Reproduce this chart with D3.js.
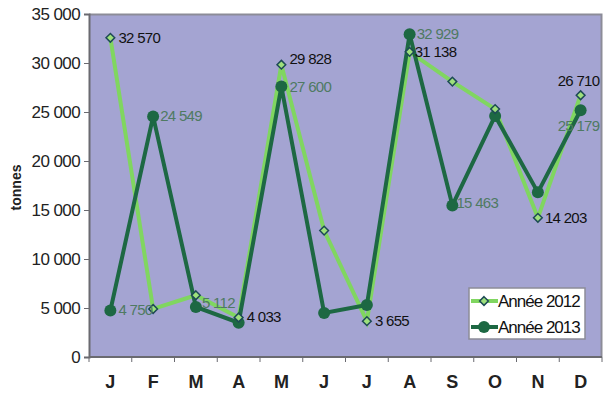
<!DOCTYPE html>
<html>
<head>
<meta charset="utf-8">
<script src="https://cdn.jsdelivr.net/npm/d3@7"></script>
<style>
  html, body { margin: 0; padding: 0; background: #ffffff; }
  svg { display: block; font-family: "Liberation Sans", Arial, sans-serif; }
</style>
</head>
<body>
<svg id="chart" width="610" height="395"></svg>
<script>
// Monthly tonnage, 2012 vs 2013
const months = ["J", "F", "M", "A", "M", "J", "J", "A", "S", "O", "N", "D"];
const values2012 = [32570, 4900, 6300, 4033, 29828, 12900, 3655, 31138, 28100, 25300, 14203, 26710];
const values2013 = [4750, 24549, 5112, 3500, 27600, 4500, 5300, 32929, 15463, 24600, 16800, 25179];
const yTicks = [0, 5000, 10000, 15000, 20000, 25000, 30000, 35000];

// Which points carry a value label, and where it sits relative to the point
const labels2012 = [
  { i: 0, dx: 8, dy: 5 }, { i: 3, dx: 8, dy: 5 }, { i: 4, dx: 8, dy: -1 },
  { i: 6, dx: 8, dy: 5 }, { i: 7, dx: 5, dy: 5 }, { i: 10, dx: 7, dy: 5 },
  { i: 11, dx: -23, dy: -9 }
];
const labels2013 = [
  { i: 0, dx: 8, dy: 5 }, { i: 1, dx: 7, dy: 5 }, { i: 2, dx: 6, dy: 1 },
  { i: 4, dx: 8, dy: 5 }, { i: 7, dx: 7, dy: 5 }, { i: 8, dx: 4, dy: 3 },
  { i: 11, dx: -23, dy: 21 }
];

const fmt = v => d3.format(",")(v).replace(/,/g, " ");

const svg = d3.select("#chart");
const margin = { left: 89, top: 14, right: 8, bottom: 38 };
const W = 610, H = 395;
const x0 = margin.left, x1 = W - margin.right;
const y0 = H - margin.bottom, y1 = margin.top;

const x = d3.scalePoint().domain(d3.range(12)).range([x0, x1]).padding(0.5);
const y = d3.scaleLinear().domain([0, 35000]).range([y0, y1]);
const step = x.step();

// Plot background
svg.append("rect")
  .attr("x", x0).attr("y", y1)
  .attr("width", x1 - x0).attr("height", y0 - y1)
  .attr("fill", "#a4a4d2");

// Frame top / right
svg.append("path")
  .attr("d", `M${x0},${y1 + 0.5}H${x1 - 0.5}V${y0}`)
  .attr("fill", "none").attr("stroke", "#8c8c98").attr("stroke-width", 2);

// Y axis
const yAxis = svg.append("g")
  .attr("transform", `translate(${x0},0)`)
  .call(d3.axisLeft(y).tickValues(yTicks).tickSize(5).tickPadding(4).tickFormat(fmt));
yAxis.select(".domain").attr("stroke", "#6a6a70").attr("stroke-width", 2);
yAxis.selectAll(".tick line").attr("stroke", "#6a6a70");
yAxis.selectAll("text").attr("font-size", 17).attr("fill", "#222").attr("letter-spacing", -0.6);

// X axis: ticks between categories
const xAxis = svg.append("g").attr("transform", `translate(0,${y0})`);
xAxis.append("line")
  .attr("x1", x0).attr("x2", x1).attr("stroke", "#6a6a70").attr("stroke-width", 2);
xAxis.selectAll("line.sep")
  .data(d3.range(13))
  .join("line")
  .attr("class", "sep")
  .attr("x1", i => x0 + i * step).attr("x2", i => x0 + i * step)
  .attr("y1", 0).attr("y2", 5)
  .attr("stroke", "#6a6a70");
xAxis.selectAll("text")
  .data(months)
  .join("text")
  .attr("x", (d, i) => x(i)).attr("y", 31)
  .attr("text-anchor", "middle")
  .attr("font-size", 18).attr("font-weight", "bold").attr("fill", "#222")
  .text(d => d);

// Y title
svg.append("text")
  .attr("transform", `translate(21,${(y0 + y1) / 2 + 2}) rotate(-90)`)
  .attr("text-anchor", "middle")
  .attr("font-size", 14).attr("font-weight", "bold").attr("fill", "#222")
  .text("tonnes");

const line = d3.line().x((d, i) => x(i)).y(d => y(d));

const c2012 = "#80d660", c2013 = "#1d6843";

// 2012 series
svg.append("path").datum(values2012)
  .attr("d", line).attr("fill", "none")
  .attr("stroke", c2012).attr("stroke-width", 4).attr("stroke-linejoin", "miter");
// 2013 series
svg.append("path").datum(values2013)
  .attr("d", line).attr("fill", "none")
  .attr("stroke", c2013).attr("stroke-width", 4).attr("stroke-linejoin", "miter");

const diamond = d3.symbol().type(d3.symbolDiamond2).size(48);

svg.append("g").selectAll("circle")
  .data(values2013)
  .join("circle")
  .attr("cx", (d, i) => x(i)).attr("cy", d => y(d))
  .attr("r", 6).attr("fill", c2013);

svg.append("g").selectAll("path")
  .data(values2012)
  .join("path")
  .attr("d", diamond)
  .attr("transform", (d, i) => `translate(${x(i)},${y(d)})`)
  .attr("fill", "#9ee07c").attr("stroke", "#1d4a55").attr("stroke-width", 1.5);

// Value labels
svg.append("g").selectAll("text")
  .data(labels2013)
  .join("text")
  .attr("x", d => x(d.i) + d.dx).attr("y", d => y(values2013[d.i]) + d.dy)
  .attr("font-size", 15).attr("fill", "#4f7a62").attr("letter-spacing", -0.7)
  .text(d => fmt(values2013[d.i]));

svg.append("g").selectAll("text")
  .data(labels2012)
  .join("text")
  .attr("x", d => x(d.i) + d.dx).attr("y", d => y(values2012[d.i]) + d.dy)
  .attr("font-size", 15).attr("fill", "#111").attr("letter-spacing", -0.7)
  .text(d => fmt(values2012[d.i]));

// Legend
const lg = svg.append("g").attr("transform", "translate(469,288)");
lg.append("rect").attr("width", 116).attr("height", 51)
  .attr("fill", "#ffffff").attr("stroke", "#8c8c98").attr("stroke-width", 1.5);
const items = [
  { name: "Année 2012", color: c2012, mark: "diamond" },
  { name: "Année 2013", color: c2013, mark: "circle" }
];
items.forEach((it, k) => {
  const g = lg.append("g").attr("transform", `translate(0,${13 + k * 26})`);
  g.append("line").attr("x1", 2).attr("x2", 29).attr("stroke", it.color).attr("stroke-width", 4);
  if (it.mark === "diamond") {
    g.append("path").attr("d", diamond).attr("transform", "translate(15,0)")
      .attr("fill", "#9ee07c").attr("stroke", "#1d4a55").attr("stroke-width", 1.5);
  } else {
    g.append("circle").attr("cx", 15).attr("r", 6).attr("fill", it.color);
  }
  g.append("text").attr("x", 29).attr("y", 6)
    .attr("font-size", 17).attr("fill", "#111").attr("letter-spacing", -1)
    .text(it.name);
});
</script>
</body>
</html>
